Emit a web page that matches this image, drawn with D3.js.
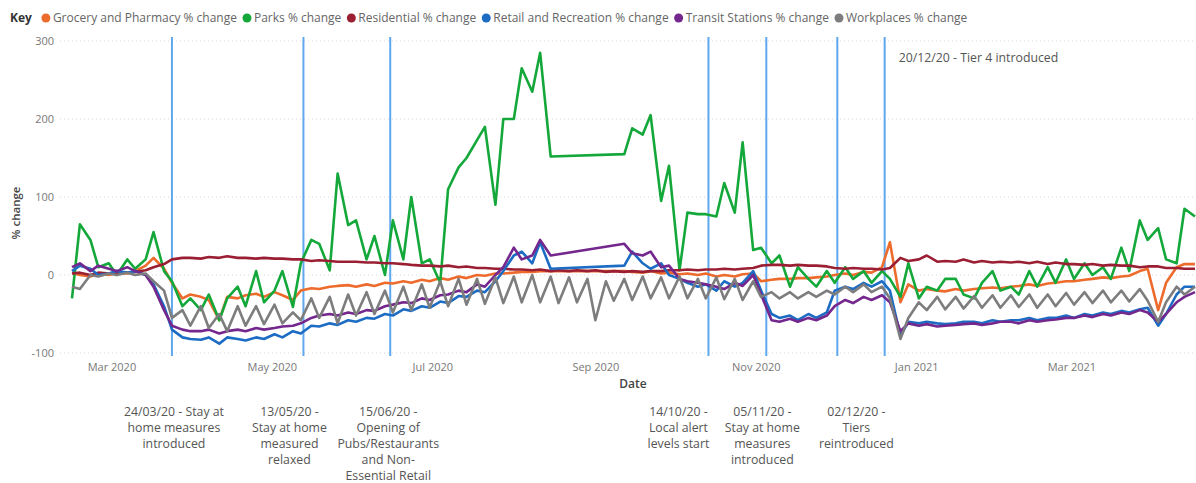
<!DOCTYPE html>
<html>
<head>
<meta charset="utf-8">
<script src="https://cdn.jsdelivr.net/npm/d3@7"></script>
<style>
  body { margin: 0; background: #fff; }
  svg { font-family: "Open Sans", "Noto Sans", sans-serif; }
</style>
</head>
<body>
<svg id="chart" width="1196" height="483"></svg>
<script>
// google mobility style chart, one sample every Sat + Tue (3/4 day steps)
var startDay = new Date(2020, 1, 15);
var sampleCount = 123;

var seriesNames = ["Grocery and Pharmacy % change", "Parks % change", "Residential % change",
  "Retail and Recreation % change", "Transit Stations % change", "Workplaces % change"];
var seriesColors = ["#EC6B2D", "#14A83B", "#9A1F33", "#1D6CC4", "#74278C", "#7D7D7D"];

var grocery = [
  3,0, -2,2, 0,3, 2,5, 12,22, 8,-10, -30,-25, -28,-32,
  -58,-28, -30,-26, -24,-28, -22,-26, -32,-20, -17,-18, -15,-14, -13,-15,
  -12,-14, -10,-11, -8,-10, -6,-8, -4,-6, -2,-4, 0,-1, 2,2,
  3,4, 4,5, 5,null, null,null, null,null, null,null, 5,4, 3,5,
  2,3, 1,2, 0,2, -2,0, -2,1, 2,-8, -6,-5, -5,-4,
  -4,-3, -2,0, 2,0, 4,3, 10,42, -35,-12, -20,-18, -20,-21,
  -18,-20, -18,-17, -16,-17, -15,-14, -12,-14, -11,-10, -8,-8, -6,-5,
  -3,-4, -2,-1, 5,8, -45,-10, 10,14, 14
];
var parks = [
  -30,65, 45,10, 15,0, 20,8, 20,55, 5,-8, -40,-30, -45,-25,
  -58,-30, -15,-40, 5,-35, -20,5, -41,15, 45,40, 6,130, 64,70,
  20,50, 0,70, 20,100, 15,20, -10,110, 138,150, 173,190, 90,200,
  200,265, 235,285, 152,null, null,null, null,null, null,null, 155,188, 180,205,
  95,140, 6,80, 78,78, 75,118, 80,170, 32,35, 15,25, -15,10,
  -5,-15, 5,-10, 10,-5, 5,-10, 5,-5, -28,15, -30,-15, -20,-5,
  -5,-25, -30,-10, 5,-20, -15,-25, 5,-15, 10,-10, 20,-5, 15,0,
  10,-5, 35,5, 70,45, 60,20, 15,85, 75
];
var residential = [
  2,3, 0,3, 2,3, 3,4, 6,10, 14,20, 22,22, 21,23,
  22,24, 22,22, 21,22, 21,21, 20,20, 18,19, 18,17, 17,17,
  16,16, 15,15, 14,13, 12,12, 11,12, 10,11, 9,9, 8,8,
  7,7, 6,7, 5,6, 5,6, 5,6, 4,5, 4,5, 4,5,
  5,6, 6,7, 6,7, 7,8, 7,8, 9,12, 13,13, 12,13,
  12,12, 11,9, 8,9, 8,8, 7,9, 22,18, 20,25, 17,18,
  17,20, 16,18, 16,17, 16,17, 15,17, 14,16, 14,14, 13,14,
  12,13, 12,12, 10,11, 11,9, 9,8, 8
];
var retail = [
  5,12, 8,0, 2,5, 3,5, 0,-12, -40,-70, -80,-82, -83,-80,
  -88,-80, -82,-84, -80,-82, -76,-80, -72,-75, -65,-66, -62,-64, -58,-60,
  -55,-56, -50,-52, -44,-46, -40,-42, -34,-36, -27,-28, -20,-22, -8,5,
  25,30, 15,42, 8,null, null,null, null,null, null,null, 12,30, 15,8,
  15,0, -5,-10, -15,-12, -20,-8, -15,-10, 5,-20, -50,-55, -52,-58,
  -50,-55, -48,-20, -15,-18, -10,-15, -8,-20, -78,-60, -62,-60, -62,-63,
  -62,-60, -60,-62, -58,-60, -58,-58, -55,-58, -55,-55, -52,-55, -50,-52,
  -48,-50, -46,-48, -44,-42, -65,-50, -25,-15, -15
];
var transit = [
  10,15, 5,12, 8,5, 10,5, 0,-15, -45,-65, -70,-72, -72,-70,
  -75,-72, -70,-72, -68,-70, -68,-66, -65,-62, -55,-52, -50,-52, -48,-50,
  -45,-46, -40,-38, -35,-36, -30,-32, -26,-25, -20,-22, -12,-15, 0,10,
  35,20, 25,45, 25,null, null,null, null,null, null,null, 40,28, 25,30,
  10,12, -5,-8, -10,-12, -15,-18, -10,-14, 0,-25, -58,-60, -56,-60,
  -55,-58, -52,-40, -32,-36, -28,-32, -26,-35, -72,-62, -65,-63, -66,-65,
  -64,-63, -62,-64, -62,-60, -60,-62, -58,-60, -58,-57, -55,-55, -52,-54,
  -50,-52, -48,-50, -45,-48, -60,-50, -35,-28, -22
];
var workplaces = [
  -15,-18, 0,-2, 2,0, 3,0, 2,-8, -20,-55, -45,-65, -40,-68,
  -50,-72, -40,-65, -40,-63, -38,-62, -48,-58, -30,-55, -28,-62, -25,-52,
  -22,-50, -20,-48, -15,-45, -12,-42, -8,-40, -5,-38, -5,-37, -3,-36,
  -2,-35, 0,-35, -2,-36, -3,-35, -5,-58, -8,-33, -5,-32, -2,-30,
  -3,-30, -2,-30, -5,-30, -3,-31, -5,-32, -8,-28, -22,-30, -22,-30,
  -22,-28, -20,-25, -15,-22, -12,-22, -15,-30, -82,-55, -35,-45, -28,-44,
  -28,-43, -27,-42, -26,-42, -26,-41, -25,-42, -25,-40, -23,-38, -22,-36,
  -20,-35, -20,-34, -18,-33, -60,-35, -15,-25, -15
];
var seriesValues = [grocery, parks, residential, retail, transit, workplaces];

var eventDates = ["2020-03-24", "2020-05-13", "2020-06-15", "2020-10-14", "2020-11-05", "2020-12-02", "2020-12-20"];
var eventNotes = [
  ["24/03/20 - Stay at", "home measures", "introduced"],
  ["13/05/20 -", "Stay at home", "measured", "relaxed"],
  ["15/06/20 -", "Opening of", "Pubs/Restaurants", "and Non-", "Essential Retail"],
  ["14/10/20 -", "Local alert", "levels start"],
  ["05/11/20 -", "Stay at home", "measures", "introduced"],
  ["02/12/20 -", "Tiers", "reintroduced"],
  ["20/12/20 - Tier 4 introduced"]
];
var yTicks = [-100, 0, 100, 200, 300];

// sample i -> Saturday of week i/2, odd ones are the Tuesday after
var dates = d3.range(sampleCount).map(function(i) {
  return d3.timeDay.offset(startDay, Math.floor(i / 2) * 7 + (i % 2) * 3);
});

var svg = d3.select("#chart");
var x = d3.scaleTime().domain([dates[0], dates[dates.length - 1]]).range([72, 1195]);
var y = d3.scaleLinear().domain([-100, 300]).range([353, 41]);

// gridlines
svg.append("g").selectAll("line").data(yTicks).enter().append("line")
  .attr("x1", 60).attr("x2", 1196)
  .attr("y1", function(d) { return y(d); }).attr("y2", function(d) { return y(d); })
  .attr("stroke", "#d8d8d8").attr("stroke-width", 1).attr("stroke-dasharray", "1,3");

// y axis labels
svg.append("g").selectAll("text").data(yTicks).enter().append("text")
  .attr("x", 54).attr("y", function(d) { return y(d) + 4; })
  .attr("text-anchor", "end").attr("font-size", 11).attr("fill", "#777")
  .text(function(d) { return d; });

svg.append("text").attr("transform", "translate(20,213) rotate(-90)")
  .attr("text-anchor", "middle").attr("font-size", 11.5).attr("font-weight", 600)
  .attr("fill", "#444").text("% change");

// x axis
var xAxis = svg.append("g").attr("transform", "translate(0,358)")
  .call(d3.axisBottom(x).ticks(d3.timeMonth.every(2)).tickFormat(d3.timeFormat("%b %Y")).tickSize(0));
xAxis.select(".domain").remove();
xAxis.selectAll("text").attr("font-size", 11).attr("fill", "#777")
  .attr("font-family", "\"Open Sans\", sans-serif").attr("dy", "0.95em");

svg.append("text").attr("x", 633).attr("y", 388).attr("text-anchor", "middle")
  .attr("font-size", 12).attr("font-weight", 600).attr("fill", "#444").text("Date");

// event lines
var parseDay = d3.timeParse("%Y-%m-%d");
svg.append("g").selectAll("line").data(eventDates).enter().append("line")
  .attr("x1", function(d) { return x(parseDay(d)); }).attr("x2", function(d) { return x(parseDay(d)); })
  .attr("y1", 37).attr("y2", 356)
  .attr("stroke", "#5FA8EE").attr("stroke-width", 2);

// series
var line = d3.line()
  .x(function(d) { return x(d.date); })
  .y(function(d) { return y(d.value); });

seriesValues.forEach(function(vals, si) {
  var pts = [];
  vals.forEach(function(v, i) { if (v !== null) pts.push({date: dates[i], value: v}); });
  svg.append("path").datum(pts)
    .attr("d", line)
    .attr("fill", "none")
    .attr("stroke", seriesColors[si])
    .attr("stroke-width", 2.6)
    .attr("stroke-linejoin", "round");
});

// event notes under the axis (last one sits at the top of the plot)
var noteShift = [2, -14, -2, -30, -4, 19];
eventNotes.forEach(function(lines, k) {
  var cx = x(parseDay(eventDates[k]));
  var t;
  if (k === eventNotes.length - 1) {
    t = svg.append("text").attr("x", cx + 14).attr("y", 62).attr("text-anchor", "start");
  } else {
    t = svg.append("text").attr("x", cx + noteShift[k]).attr("y", 416).attr("text-anchor", "middle");
  }
  t.attr("font-size", 12.3).attr("fill", "#555");
  lines.forEach(function(s, j) {
    t.append("tspan").attr("x", t.attr("x")).attr("dy", j === 0 ? 0 : 16).text(s);
  });
});

// legend
var lg = svg.append("g").attr("transform", "translate(10,22)");
var key = lg.append("text").attr("x", 0).attr("y", 0).attr("font-size", 12)
  .attr("font-weight", 700).attr("fill", "#333").text("Key");
var lx = key.node().getComputedTextLength() + 10;
seriesNames.forEach(function(name, si) {
  lg.append("circle").attr("cx", lx + 4).attr("cy", -4).attr("r", 4.5).attr("fill", seriesColors[si]);
  var t = lg.append("text").attr("x", lx + 11).attr("y", 0).attr("font-size", 12)
    .attr("fill", "#666").text(name);
  lx += 11 + t.node().getComputedTextLength() + 6;
});
</script>
</body>
</html>
